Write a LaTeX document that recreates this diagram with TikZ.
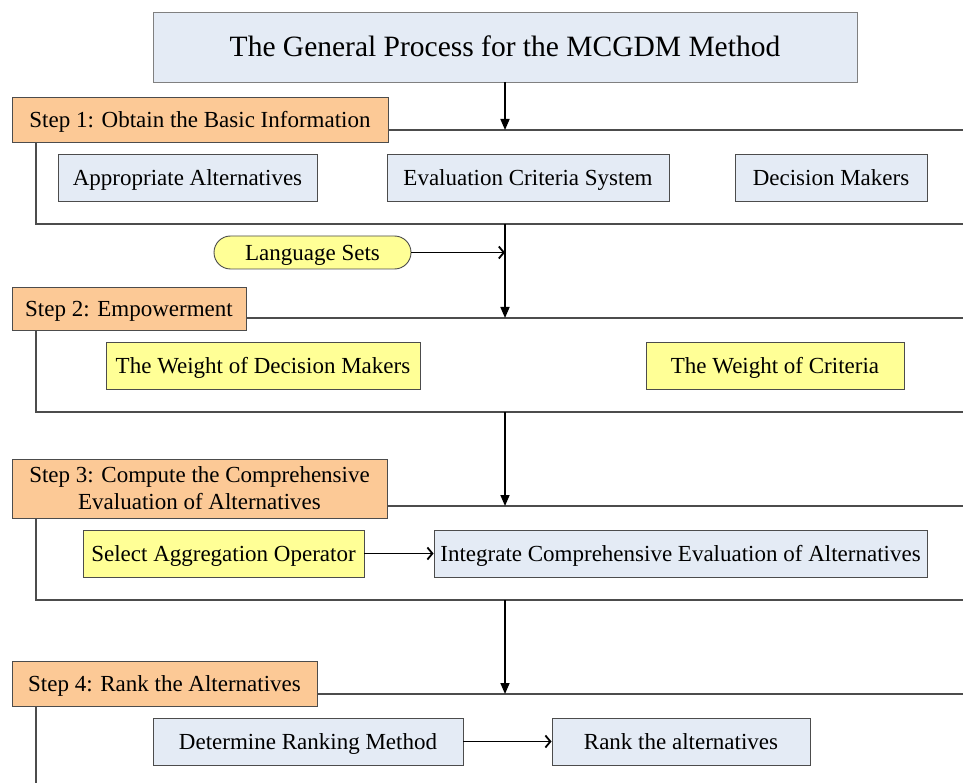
\documentclass[tikz,border=0pt]{standalone}
\usepackage{fontspec}
\setmainfont{Liberation Serif}
\usetikzlibrary{arrows.meta,shapes.misc}
\definecolor{boxblue}{RGB}{228,235,245}
\definecolor{steporange}{RGB}{252,201,150}
\definecolor{boxyellow}{RGB}{255,255,150}

\begin{document}
\begin{tikzpicture}[x=1pt,y=-1pt,
  txt/.style={font=\fontsize{23}{27}\selectfont,inner sep=0pt,align=center},
  one/.style={text height=20pt,text depth=4pt},
  box/.style={txt,draw=black!70,line width=0.9pt,minimum height=47pt},
  bluebox/.style={box,one,fill=boxblue},
  yellowbox/.style={box,one,fill=boxyellow},
  stepbox/.style={box,fill=steporange},
  frame/.style={draw=black!70,line width=1.1pt},
  flow/.style={line width=1.6pt,-{Triangle[length=11pt,width=9pt]}},
  feed/.style={line width=1.8pt,-{Straight Barb[length=5pt,width=12pt]}}]

\useasboundingbox (0,0) rectangle (963,783);
\clip (0,0) rectangle (963,783);

% frames of the four steps
\draw[frame] (36,130) rectangle (975,224);
\draw[frame] (36,318) rectangle (975,412);
\draw[frame] (36,506) rectangle (975,600);
\draw[frame] (36,694) rectangle (975,800);

\node[bluebox,draw=black!50,minimum width=704pt,minimum height=70pt,text height=24pt,
      font=\fontsize{29.5}{34}\selectfont] (title) at (505,47) {The General Process for the MCGDM Method};

\node[stepbox,one,minimum width=376pt,minimum height=45pt] (step1) at (200,119.5) {Step 1: Obtain the Basic Information};
\node[stepbox,one,minimum width=234pt,minimum height=43pt] (step2) at (129,308.5) {Step 2: Empowerment};
\node[stepbox,minimum width=375pt,minimum height=59pt] (step3) at (199.5,488.5) {Step 3: Compute the Comprehensive\\Evaluation of Alternatives};
\node[stepbox,one,minimum width=305pt,minimum height=45pt] (step4) at (164.5,683.5) {Step 4: Rank the Alternatives};

\foreach \name/\x/\w/\label in {alt/187.5/259/Appropriate Alternatives,
    crit/528/282/Evaluation Criteria System, dm/831/192/Decision Makers}{
  \node[bluebox,minimum width=\w pt] (\name) at (\x,177.5) {\label};
}

\node[txt,one,draw=black!70,line width=0.9pt,fill=boxyellow,rounded rectangle,
      minimum width=197pt,minimum height=33pt] (lang) at (312.5,252.5) {Language Sets};

\node[yellowbox,minimum width=314pt] (wdm) at (263,365.5) {The Weight of Decision Makers};
\node[yellowbox,minimum width=258pt] (wcr) at (775,365.5) {The Weight of Criteria};

\node[yellowbox,minimum width=281pt] (agg) at (223.5,553.5) {Select Aggregation Operator};
\node[bluebox,minimum width=493pt] (integ) at (680.5,553.5) {Integrate Comprehensive Evaluation of Alternatives};

\node[bluebox,minimum width=310pt] (method) at (308,741.5) {Determine Ranking Method};
\node[bluebox,minimum width=258pt] (rank) at (681,741.5) {Rank the alternatives};

\coordinate (in1) at (505,130);
\coordinate (out1) at (505,224);
\coordinate (in2) at (505,318);
\coordinate (out2) at (505,412);
\coordinate (in3) at (505,506);
\coordinate (out3) at (505,600);
\coordinate (in4) at (505,694);

\draw[flow] (title.south) -- (in1);
\draw[flow] (out1) -- (in2);
\draw[flow] (out2) -- (in3);
\draw[flow] (out3) -- (in4);

\draw[feed] (lang.east) -- (lang.east -| out1);
\draw[feed] (agg) -- (integ);
\draw[feed] (method) -- (rank);
\end{tikzpicture}
\end{document}
